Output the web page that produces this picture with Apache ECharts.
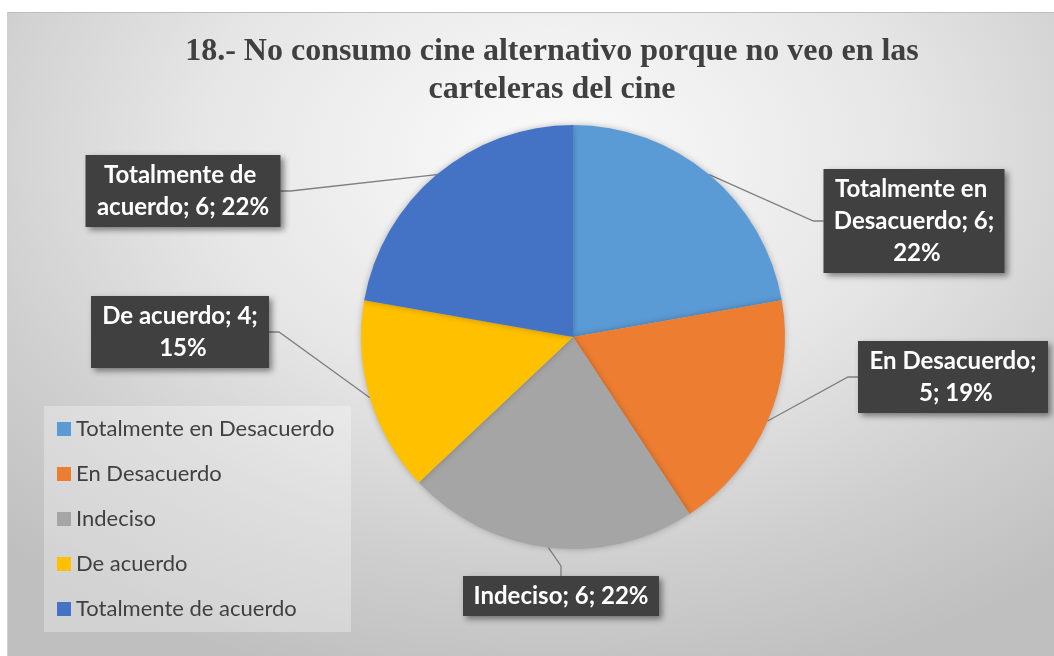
<!DOCTYPE html>
<html>
<head>
<meta charset="utf-8">
<script src="https://cdn.jsdelivr.net/npm/echarts@6/dist/echarts.min.js"></script>
<style>
    html, body { margin: 0; padding: 0; background: #ffffff; }
    #chart {
        position: absolute;
        left: 7px;
        top: 12px;
        width: 1047px;
        height: 644px;
        border-top: 1px solid #bdbdbd;
        border-left: 1px solid #d0d0d0;
        box-sizing: border-box;
        background: radial-gradient(ellipse 75% 85% at 52% 22%, #fbfbfb 0%, #e6e6e6 45%, #cfcfcf 75%, #bfbfbf 100%);
    }
</style>
</head>
<body>
<div id="chart"></div>
<script>
"use strict"

// datos de la pregunta 18
const categories = ['Totalmente en Desacuerdo', 'En Desacuerdo', 'Indeciso', 'De acuerdo', 'Totalmente de acuerdo'];
const answers = [6, 5, 6, 4, 6];
const colors = ['#5B9BD5', '#ED7D31', '#A5A5A5', '#FFC000', '#4472C4'];

// where each data label box sits (center) and its text width
const labelBoxes = [
    { x: 906, y: 208, w: 163 },
    { x: 945, y: 364, w: 172 },
    { x: 553, y: 583, w: 178 },
    { x: 172, y: 319, w: 160 },
    { x: 175, y: 178, w: 177 }
];

let chart = echarts.init(document.getElementById('chart'), null, { renderer: 'canvas' });

let pieData = [];
for (let i = 0; i < categories.length; i++) {
    pieData.push({
        name: categories[i],
        value: answers[i],
        itemStyle: { color: colors[i] },
        label: { width: labelBoxes[i].w }
    });
}

let option = {
    backgroundColor: 'transparent',
    title: {
        text: '18.- No consumo cine alternativo porque no veo en las\ncarteleras del cine',
        left: 539,
        top: 15,
        textAlign: 'center',
        textStyle: {
            fontFamily: '"Liberation Serif", "Times New Roman", serif',
            fontWeight: 'bold',
            fontSize: 32,
            lineHeight: 38,
            color: '#404040'
        }
    },
    legend: {
        orient: 'vertical',
        left: 36,
        top: 393,
        icon: 'rect',
        itemWidth: 14,
        itemHeight: 14,
        itemGap: 23,
        padding: [12, 12, 12, 13],
        backgroundColor: 'rgba(255,255,255,0.3)',
        data: categories,
        textStyle: {
            fontFamily: 'Lato, "Open Sans", sans-serif',
            fontSize: 22,
            lineHeight: 22,
            width: 263,
            color: '#404040'
        }
    },
    series: [{
        type: 'pie',
        center: [565, 324],
        radius: 212,
        startAngle: 90,
        clockwise: true,
        percentPrecision: 0,
        avoidLabelOverlap: false,
        data: pieData,
        emphasis: { disabled: true },
        itemStyle: {
            borderWidth: 0,
            shadowBlur: 6,
            shadowColor: 'rgba(0,0,0,0.25)'
        },
        label: {
            show: true,
            position: 'outside',
            formatter: function (p) {
                return p.name + '; ' + p.value + '; ' + p.percent + '%';
            },
            overflow: 'break',
            align: 'center',
            fontFamily: 'Lato, "Open Sans", sans-serif',
            fontWeight: 'bold',
            fontSize: 24,
            lineHeight: 32,
            color: '#ffffff',
            backgroundColor: '#404040',
            padding: [4, 9],
            shadowColor: 'rgba(0,0,0,0.45)',
            shadowBlur: 6,
            shadowOffsetX: 3,
            shadowOffsetY: 3
        },
        labelLine: {
            show: true,
            length: 10,
            length2: 10,
            lineStyle: { color: '#7f7f7f', width: 1.3 }
        },
        labelLayout: function (params) {
            const b = labelBoxes[params.dataIndex];
            return {
                x: b.x,
                y: b.y,
                align: 'center',
                verticalAlign: 'middle'
            };
        }
    }]
};

chart.setOption(option);
console.log('chart ready');
</script>
</body>
</html>
